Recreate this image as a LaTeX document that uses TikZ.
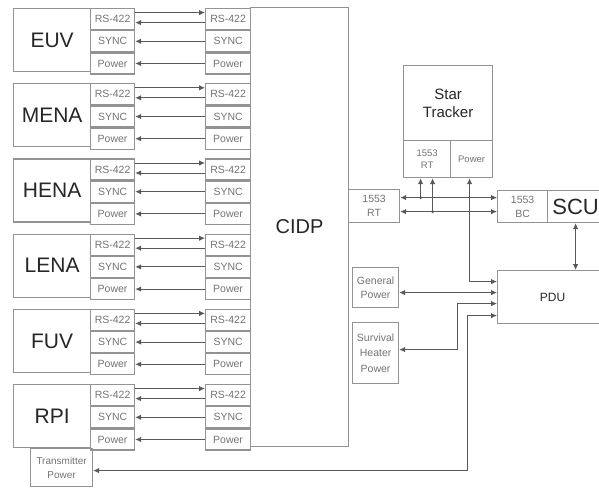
\documentclass[tikz,border=0pt]{standalone}
\usepackage{fontspec}
\setmainfont{Liberation Sans}
\usetikzlibrary{arrows.meta,positioning}

\begin{document}
\begin{tikzpicture}[x=1pt, y=-1pt,
    box/.style={draw=gray!85, line width=1.2pt, inner sep=0pt, align=center,
      text=black!85},
    inst/.style={box, minimum width=77, minimum height=63,
      font=\fontsize{21}{23}\selectfont},
    sub/.style={box, minimum width=44, minimum height=21, text=black!55,
      font=\fontsize{10.5}{13}\selectfont},
    small/.style={box, text=black!55, font=\fontsize{10.5}{14}\selectfont},
    arrow/.style={-{Latex[length=6,width=5.5]}, line width=0.9pt, draw=black!65},
    biarrow/.style={{Latex[length=6,width=5.5]}-{Latex[length=6,width=5.5]},
      line width=0.9pt, draw=black!65}
  ]
    \useasboundingbox (0,0) rectangle (599,488);

    % central unit
    \node[box, minimum width=98, minimum height=439, anchor=north west,
      font=\fontsize{20}{22}\selectfont] (cidp) at (250,7) {CIDP};

    % instruments
    \foreach \nm [count=\i from 0] in {EUV,MENA,HENA,LENA,FUV,RPI} {
      \pgfmathsetmacro{\rowy}{8+75.2*\i}
      \node[inst, anchor=north west] (\nm) at (13,\rowy) {\nm};
      \node[sub, anchor=north west] (\nm-rs) at (90,\rowy) {RS-422};
      \node[sub, below=0pt of \nm-rs] (\nm-sy) {SYNC};
      \node[sub, below=0pt of \nm-sy] (\nm-pw) {Power};
      \node[sub, minimum width=45, anchor=north west] (\nm-crs) at (205,\rowy) {RS-422};
      \node[sub, minimum width=45, below=0pt of \nm-crs] (\nm-csy) {SYNC};
      \node[sub, minimum width=45, below=0pt of \nm-csy] (\nm-cpw) {Power};
      \draw[arrow] ([yshift=6.5]\nm-rs.east) -- ([yshift=6.5]\nm-crs.west);
      \draw[arrow] ([yshift=-3.5]\nm-crs.west) -- ([yshift=-3.5]\nm-rs.east);
      \draw[arrow] (\nm-csy.west) -- (\nm-sy.east);
      \draw[arrow] (\nm-cpw.west) -- (\nm-pw.east);
    }

    \node[small, minimum width=62, minimum height=38, anchor=north west,
      font=\fontsize{10}{14}\selectfont] (tx) at (30,448) {Transmitter\\Power};

    % star tracker
    \node[box, minimum width=89, minimum height=75, anchor=north west,
      font=\fontsize{15}{18}\selectfont] (st) at (403,65) {Star\\Tracker};
    \node[small, minimum width=47, minimum height=37, anchor=north west,
      font=\fontsize{9.5}{12}\selectfont] (st-rt) at (403,140) {1553\\RT};
    \node[small, minimum width=42, minimum height=37, anchor=north west,
      font=\fontsize{9.5}{12}\selectfont] (st-pw) at (450,140) {Power};

    % 1553 bus
    \node[small, minimum width=51, minimum height=33, anchor=north west] (rt)
      at (348,189) {1553\\RT};
    \node[small, minimum width=50, minimum height=32, anchor=north west] (bc)
      at (497,190) {1553\\BC};
    \node[box, minimum width=56, minimum height=32, anchor=north west,
      font=\fontsize{22}{24}\selectfont] (scu) at (547,190) {SCU};

    % power distribution
    \node[box, minimum width=110, minimum height=53, anchor=north west,
      font=\fontsize{12}{14}\selectfont] (pdu) at (497,270) {PDU};
    \node[small, minimum width=46, minimum height=40, anchor=north west] (gen)
      at (352,267) {General\\Power};
    \node[small, minimum width=46, minimum height=61, anchor=north west,
      font=\fontsize{10.5}{15.5}\selectfont] (surv) at (352,322)
      {Survival\\Heater\\Power};

    \coordinate (bus1) at ([yshift=8.5]rt.east);
    \coordinate (bus2) at ([yshift=-5.5]rt.east);
    \draw[biarrow] (bus1) -- (bus1 -| bc.west);
    \draw[biarrow] (bus2) -- (bus2 -| bc.west);
    \coordinate (tap1) at ([xshift=-6.5]st-rt.south);
    \coordinate (tap2) at ([xshift=5.5]st-rt.south);
    \draw[arrow] (tap1 |- bus1) -- (tap1);
    \draw[arrow] (tap2 |- bus2) -- (tap2);
    \fill[black!65] (tap1 |- bus1) circle (1.7);
    \fill[black!65] (tap2 |- bus2) circle (1.7);

    \draw[biarrow] ([xshift=-2]st-pw.south) |- ([yshift=15.5]pdu.west);
    \draw[biarrow] ([yshift=-5]gen.east) -- ([yshift=-5]gen.east -| pdu.west);
    \draw[biarrow] ([yshift=3.5]surv.east) -- ++(58,0) |- ([yshift=-6.5]pdu.west);
    \draw[biarrow] ([yshift=-18.5]pdu.west) -- ++(-30,0) |- ([yshift=-3]tx.east);
    \draw[biarrow] (scu.south) -- (scu.south |- pdu.north);
  \end{tikzpicture}
\end{document}
